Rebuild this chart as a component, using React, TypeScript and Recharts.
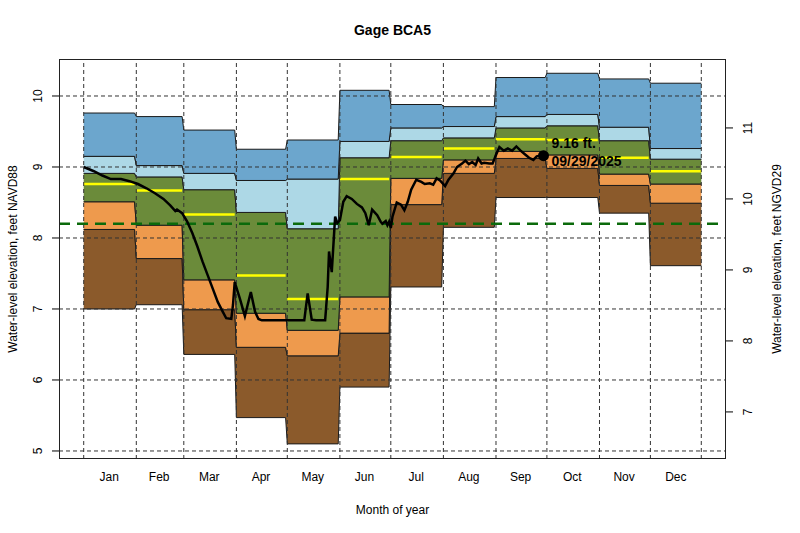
import React from "react";
import {
  ComposedChart,
  Area,
  Line,
  XAxis,
  YAxis,
  ReferenceLine,
  ReferenceDot,
} from "recharts";

const months = ["Jan", "Feb", "Mar", "Apr", "May", "Jun", "Jul", "Aug", "Sep", "Oct", "Nov", "Dec"];
const monthStart = [1, 32, 60, 91, 121, 152, 182, 213, 244, 274, 305, 335];
const monthEnd = [31, 59, 90, 120, 151, 181, 212, 243, 273, 304, 334, 365];
const levelTicks = [5, 6, 7, 8, 9, 10];
const ngvdTicks = [7, 8, 9, 10, 11];

// monthly statistics, feet NAVD88
const minLevel = [7.0, 7.06, 6.36, 5.47, 5.1, 5.9, 7.31, 8.15, 8.57, 8.57, 8.35, 7.61];
const p10Level = [8.12, 7.71, 6.99, 6.46, 6.34, 6.66, 8.47, 8.91, 9.12, 8.98, 8.74, 8.49];
const p25Level = [8.51, 8.18, 7.41, 6.94, 6.7, 7.17, 8.84, 9.1, 9.22, 9.17, 8.9, 8.76];
const medianLevel = [8.76, 8.67, 8.33, 7.47, 7.14, 8.83, 9.14, 9.26, 9.39, 9.38, 9.13, 8.94];
const p75Level = [8.91, 8.86, 8.68, 8.36, 8.13, 9.13, 9.37, 9.41, 9.55, 9.58, 9.37, 9.11];
const p90Level = [9.15, 9.02, 8.91, 8.81, 8.83, 9.36, 9.55, 9.57, 9.71, 9.74, 9.56, 9.26];
const maxLevel = [9.76, 9.71, 9.52, 9.25, 9.38, 10.08, 9.88, 9.85, 10.26, 10.32, 10.24, 10.18];

// daily record for the current year
const obsDays = [
  1, 7, 12, 17, 23, 28, 33, 38, 43, 48, 52, 55, 56, 59, 62, 65, 68, 71, 74, 77, 80, 83, 85, 88,
  89, 90, 93, 96, 99.5, 102, 104, 106, 115, 124, 131, 133, 135.4, 138, 143.3, 144.8, 145.6,
  147.2, 148.7, 149.2, 150.5, 152, 154, 156, 159, 162, 165, 167, 169, 171, 174, 176, 177, 179,
  180, 181, 182, 183, 185.5, 188, 190, 192, 194, 197, 200, 202, 205, 207, 209, 211, 214, 216,
  219, 221, 224, 226, 228, 230, 232, 233.5, 235.5, 237, 240, 242, 244, 246, 248.6, 251, 253.5,
  256, 258.5, 261, 263.5, 266, 268, 270, 272,
];
const obsLevels = [
  9.0, 8.94, 8.88, 8.83, 8.83, 8.8, 8.76, 8.7, 8.63, 8.55, 8.46, 8.38, 8.4, 8.35, 8.23, 8.07,
  7.88, 7.67, 7.48, 7.29, 7.1, 6.96, 6.87, 6.86, 7.06, 7.38, 7.15, 6.9, 7.24, 6.96, 6.86, 6.84,
  6.84, 6.84, 6.84, 7.22, 6.85, 6.84, 6.84, 7.31, 7.81, 7.52, 8.11, 8.3, 8.21, 8.25, 8.51, 8.59,
  8.55, 8.48, 8.43, 8.35, 8.18, 8.4, 8.32, 8.23, 8.2, 8.24, 8.18, 8.23, 8.14, 8.3, 8.5, 8.47,
  8.39, 8.51, 8.68, 8.82, 8.79, 8.76, 8.77, 8.75, 8.84, 8.81, 8.73, 8.82, 8.91, 9.0, 9.05, 9.09,
  9.04, 9.07, 9.03, 9.12, 9.05, 9.06, 9.05, 9.05, 9.17, 9.28, 9.23, 9.26, 9.23, 9.29, 9.23, 9.18,
  9.13, 9.1, 9.15, 9.16, 9.16,
];

const lastDay = 272;
const lastLevel = 9.16;
const lastDate = "09/29/2025";
const referenceLevel = 8.2;
const datumShift = 1.45; // NGVD29 = NAVD88 + shift

const xDomain: [number, number] = [1 - 0.04 * 364, 365 + 0.04 * 364];
const yDomain: [number, number] = [4.887, 10.521];

const bandRows = months.flatMap((_, i) => {
  const row = {
    min: minLevel[i],
    p10: p10Level[i],
    p25: p25Level[i],
    p75: p75Level[i],
    p90: p90Level[i],
    max: maxLevel[i],
  };
  return [
    { day: monthStart[i], ...row },
    { day: monthEnd[i], ...row },
  ];
});

const obsRows = obsDays.map((d, i) => ({ day: d, level: obsLevels[i] }));

const bands = [
  { lo: "min", hi: "p10", color: "#8B5A2B" },
  { lo: "p10", hi: "p25", color: "#EE9A4D" },
  { lo: "p25", hi: "p75", color: "#6B8B3A" },
  { lo: "p75", hi: "p90", color: "#ADD8E6" },
  { lo: "p90", hi: "max", color: "#6CA6CD" },
];

const FONT = "'Liberation Sans', Arial, Helvetica, sans-serif";

function LeftTick({ x, y, payload }: any) {
  const tx = x - 7.7;
  return (
    <text x={tx} y={y} transform={`rotate(-90, ${tx}, ${y})`} textAnchor="middle" fontSize={12} fill="#000" fontFamily={FONT}>
      {payload.value}
    </text>
  );
}

function RightTick({ x, y, payload }: any) {
  const tx = x + 17.3;
  return (
    <text x={tx} y={y} transform={`rotate(-90, ${tx}, ${y})`} textAnchor="middle" fontSize={12} fill="#000" fontFamily={FONT}>
      {payload.value}
    </text>
  );
}

function MonthTick({ x, y, index }: any) {
  return (
    <text x={x} y={y + 20} textAnchor="middle" fontSize={12} fill="#000" fontFamily={FONT}>
      {months[index]}
    </text>
  );
}

function LastDot({ cx, cy }: any) {
  return (
    <g>
      <circle cx={cx} cy={cy} r={5.5} fill="#000" />
      <text x={cx + 8} y={cy - 7.6} fontSize={14} fontWeight="bold" fill="#000" fontFamily={FONT}>
        {`${lastLevel.toFixed(2)} ft.`}
      </text>
      <text x={cx + 8} y={cy + 10} fontSize={14} fontWeight="bold" fill="#000" fontFamily={FONT}>
        {lastDate}
      </text>
    </g>
  );
}

const overlayText: React.CSSProperties = {
  position: "absolute",
  whiteSpace: "nowrap",
  fontFamily: FONT,
  fontSize: 12,
  color: "#000",
  lineHeight: 1,
};

export default function App() {
  const monthMid = monthStart.map((s, i) => (s + monthEnd[i]) / 2);
  const gridDays = [...monthStart, monthEnd[11]];

  return (
    <div style={{ position: "absolute", left: 0, top: 0, width: 800, height: 533, background: "#fff" }}>
      <ComposedChart
        width={800}
        height={533}
        data={bandRows}
        margin={{ top: 59, right: 29, bottom: 37, left: 14 }}
      >
        <XAxis
          xAxisId="x"
          dataKey="day"
          type="number"
          domain={xDomain}
          allowDataOverflow
          ticks={gridDays}
          interval={0}
          tick={false}
          tickSize={7}
          tickLine={{ stroke: "#000" }}
          axisLine={false}
          height={7}
        />
        <XAxis
          xAxisId="mid"
          dataKey="day"
          type="number"
          domain={xDomain}
          allowDataOverflow
          ticks={monthMid}
          interval={0}
          tick={<MonthTick />}
          tickSize={0}
          tickLine={false}
          axisLine={false}
          height={30}
        />
        <YAxis
          yAxisId="left"
          type="number"
          domain={yDomain}
          allowDataOverflow
          ticks={levelTicks}
          interval={0}
          tick={<LeftTick />}
          tickSize={7}
          tickLine={{ stroke: "#000" }}
          axisLine={false}
          width={45}
        />
        <YAxis
          yAxisId="right"
          orientation="right"
          type="number"
          domain={[yDomain[0] + datumShift, yDomain[1] + datumShift]}
          allowDataOverflow
          ticks={ngvdTicks}
          interval={0}
          tick={<RightTick />}
          tickSize={7}
          tickLine={{ stroke: "#000" }}
          axisLine={false}
          width={45}
        />

        {bands.map((b) => (
          <Area
            key={b.lo}
            xAxisId="x"
            yAxisId="left"
            type="linear"
            dataKey={(d: any) => [d[b.lo], d[b.hi]]}
            fill={b.color}
            fillOpacity={1}
            stroke="#1a1a1a"
            strokeWidth={1}
            isAnimationActive={false}
          />
        ))}

        {months.map((m, i) => (
          <ReferenceLine
            key={`med-${m}`}
            xAxisId="x"
            yAxisId="left"
            segment={[
              { x: monthStart[i], y: medianLevel[i] },
              { x: monthEnd[i], y: medianLevel[i] },
            ]}
            stroke="#FFFF00"
            strokeWidth={2.5}
          />
        ))}

        {gridDays.map((d) => (
          <ReferenceLine key={`gx-${d}`} xAxisId="x" yAxisId="left" x={d} stroke="#333" strokeDasharray="4 3" strokeWidth={1} />
        ))}
        {levelTicks.map((v) => (
          <ReferenceLine key={`gy-${v}`} xAxisId="x" yAxisId="left" y={v} stroke="#333" strokeDasharray="4 3" strokeWidth={1} />
        ))}

        <ReferenceLine
          xAxisId="x"
          yAxisId="left"
          y={referenceLevel}
          stroke="#0B6A0B"
          strokeWidth={2.5}
          strokeDasharray="11 7"
        />

        <Line
          xAxisId="x"
          yAxisId="left"
          data={obsRows}
          dataKey="level"
          type="linear"
          stroke="#000"
          strokeWidth={2.5}
          dot={false}
          isAnimationActive={false}
        />

        <ReferenceDot xAxisId="x" yAxisId="left" x={lastDay} y={lastLevel} r={5.5} shape={<LastDot />} />
      </ComposedChart>

      <div
        style={{
          position: "absolute",
          left: 59,
          top: 59,
          width: 667,
          height: 400,
          border: "1px solid #222",
          boxSizing: "border-box",
          pointerEvents: "none",
        }}
      />
      <div style={{ ...overlayText, left: 392.5, top: 30, transform: "translate(-50%, -50%)", fontSize: 14, fontWeight: "bold" }}>
        Gage BCA5
      </div>
      <div style={{ ...overlayText, left: 392.5, top: 510, transform: "translate(-50%, -50%)" }}>Month of year</div>
      <div style={{ ...overlayText, left: 12.5, top: 259, transform: "translate(-50%, -50%) rotate(-90deg)" }}>
        Water-level elevation, feet NAVD88
      </div>
      <div style={{ ...overlayText, left: 776.5, top: 259, transform: "translate(-50%, -50%) rotate(-90deg)" }}>
        Water-level elevation, feet NGVD29
      </div>
    </div>
  );
}
